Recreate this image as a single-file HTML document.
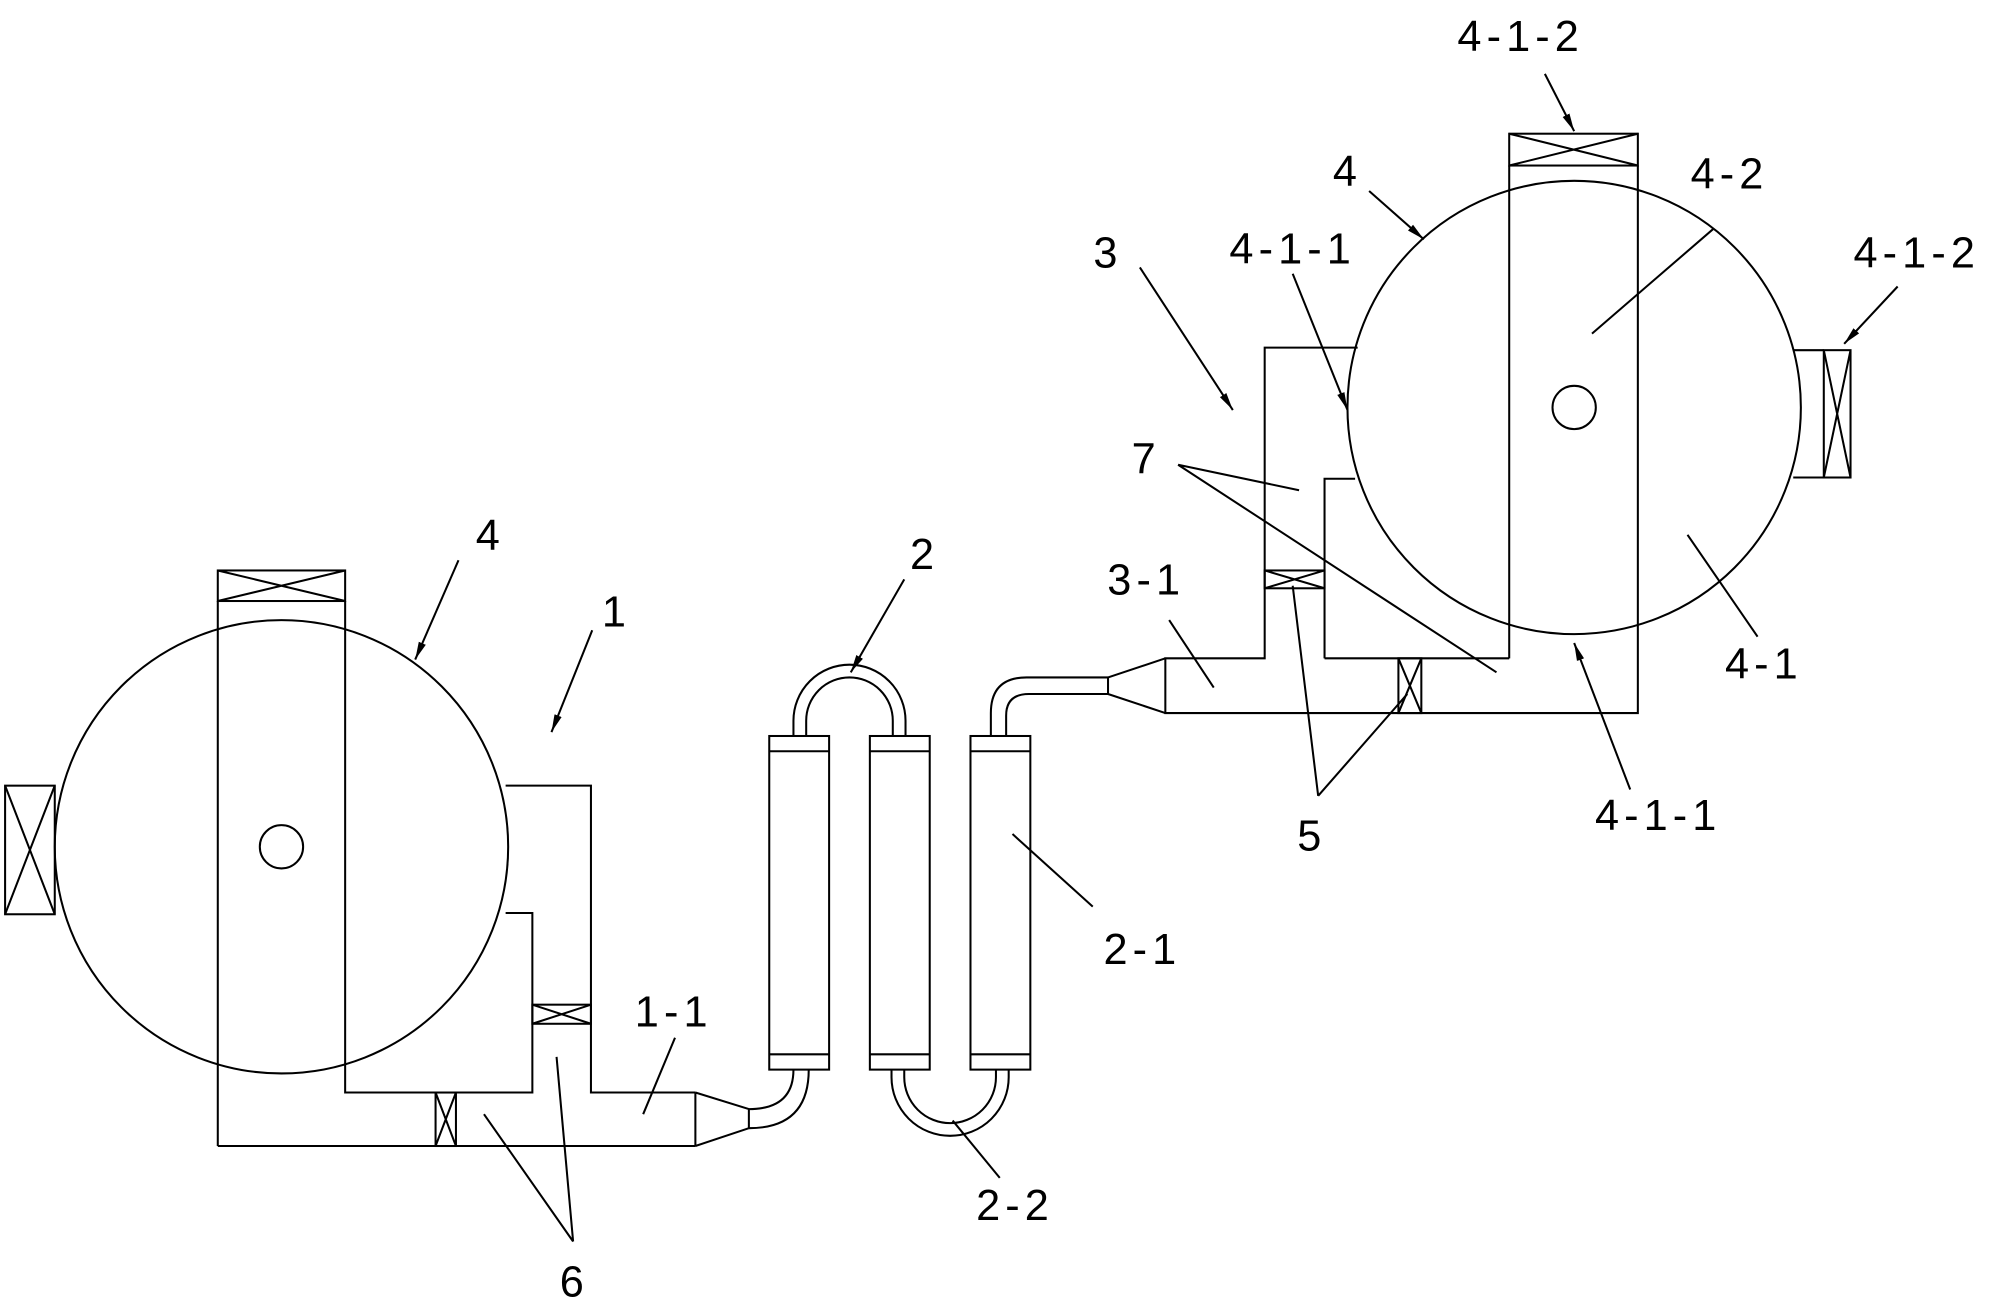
<!DOCTYPE html>
<html><head><meta charset="utf-8"><style>html,body{margin:0;padding:0;background:#fff}svg{display:block}</style></head>
<body>
<svg width="1997" height="1309" viewBox="0 0 1568 1028" preserveAspectRatio="none" xmlns="http://www.w3.org/2000/svg">
<defs><marker id="a" viewBox="0 0 14 8" refX="14" refY="4" markerWidth="14" markerHeight="8" orient="auto" markerUnits="userSpaceOnUse"><path d="M0,1 L14,4 L0,7z" fill="#000"/></marker></defs>
<g fill="none" stroke="#000" stroke-width="1.6">
<!-- LEFT -->
<rect x="171" y="448" width="100" height="24"/><path d="M171,448 L271,472 M171,472 L271,448"/>
<circle cx="221" cy="665" r="178" fill="#fff"/>
<circle cx="221" cy="665" r="17"/>
<path d="M171,472 V900 M271,472 V858 H418 V717 H397 M397,617 H464 V858 H546 M171,900 H546"/>
<rect x="4" y="617" width="39" height="101"/><path d="M4,617 L43,718 M43,617 L4,718"/>
<rect x="342" y="858" width="16" height="42"/><path d="M342,858 L358,900 M358,858 L342,900"/>
<rect x="418" y="789" width="46" height="15"/><path d="M418,789 L464,804 M418,804 L464,789"/>
<path d="M546,858 L588,871 M546,900 L588,886 M546,858 V900 M588,871 V886"/>
<path d="M588,871 Q623,871 623,840 M588,886 Q635,886 635,840"/>
<!-- columns -->
<rect x="604" y="578" width="47" height="262"/><path d="M604,590 H651 M604,828 H651"/>
<rect x="683" y="578" width="47" height="262"/><path d="M683,590 H730 M683,828 H730"/>
<rect x="762" y="578" width="47" height="262"/><path d="M762,590 H809 M762,828 H809"/>
<path d="M623,578 V566 A44,44 0 0 1 711,566 V578 M633,578 V566 A34,34 0 0 1 701,566 V578"/>
<path d="M700,840 V846 A46,46 0 0 0 792,846 V840 M710,840 V846 A36,36 0 0 0 782,846 V840"/>
<path d="M778,578 V560 Q778,532 806,532 H870 M790,578 V562 Q790,545 808,545 H870"/>
<path d="M870,532 V545 M870,532 L915,517 M870,545 L915,560"/>
<!-- RIGHT -->
<rect x="1185" y="105" width="101" height="25"/><path d="M1185,105 L1286,130 M1185,130 L1286,105"/>
<circle cx="1236" cy="320" r="178" fill="#fff"/>
<circle cx="1236" cy="320" r="17"/>
<path d="M1185,130 V517 M1286,130 V560 H915 V517 H993 V273 H1066 M1040,517 V376 H1064 M1040,517 H1185"/>
<rect x="1432" y="275" width="21" height="100"/><path d="M1432,275 L1453,375 M1453,275 L1432,375 M1408,275 H1432 M1408,375 H1432"/>
<rect x="993" y="448" width="47" height="14"/><path d="M993,448 L1040,462 M993,462 L1040,448"/>
<rect x="1098" y="517" width="18" height="43"/><path d="M1098,517 L1116,560 M1116,517 L1098,560"/>
<!-- leaders -->
<path d="M1213,58 L1236,103" marker-end="url(#a)"/>
<path d="M1075,150 L1118,188" marker-end="url(#a)"/>
<path d="M1250,262 L1345,180"/>
<path d="M1490,225 L1448,270" marker-end="url(#a)"/>
<path d="M895,210 L968,322" marker-end="url(#a)"/>
<path d="M1015,215 L1058,322" marker-end="url(#a)"/>
<path d="M925,365 L1020,385 M925,365 L1175,528"/>
<path d="M918,487 L953,540"/>
<path d="M1325,420 L1380,500"/>
<path d="M1280,620 L1236,505" marker-end="url(#a)"/>
<path d="M1035,625 L1015,460 M1035,625 L1105,545"/>
<path d="M710,455 L668,528" marker-end="url(#a)"/>
<path d="M795,655 L858,712"/>
<path d="M748,880 L785,925"/>
<path d="M360,440 L326,518" marker-end="url(#a)"/>
<path d="M465,495 L433,575" marker-end="url(#a)"/>
<path d="M505,875 L530,815"/>
<path d="M450,975 L380,875 M450,975 L437,830"/>
</g>
<g font-family="Liberation Sans, sans-serif" font-size="34" text-anchor="middle" fill="#000" letter-spacing="4">
<text x="1194" y="40">4-1-2</text>
<text x="1058" y="146">4</text>
<text x="1358" y="148">4-2</text>
<text x="1505" y="210">4-1-2</text>
<text x="870" y="210">3</text>
<text x="1015" y="207">4-1-1</text>
<text x="900" y="372">7</text>
<text x="900" y="467">3-1</text>
<text x="1385" y="533">4-1</text>
<text x="1302" y="652">4-1-1</text>
<text x="1030" y="668">5</text>
<text x="726" y="447">2</text>
<text x="897" y="757">2-1</text>
<text x="797" y="958">2-2</text>
<text x="385" y="432">4</text>
<text x="484" y="492">1</text>
<text x="529" y="806">1-1</text>
<text x="451" y="1018">6</text>
</g>
</svg>
</body></html>
